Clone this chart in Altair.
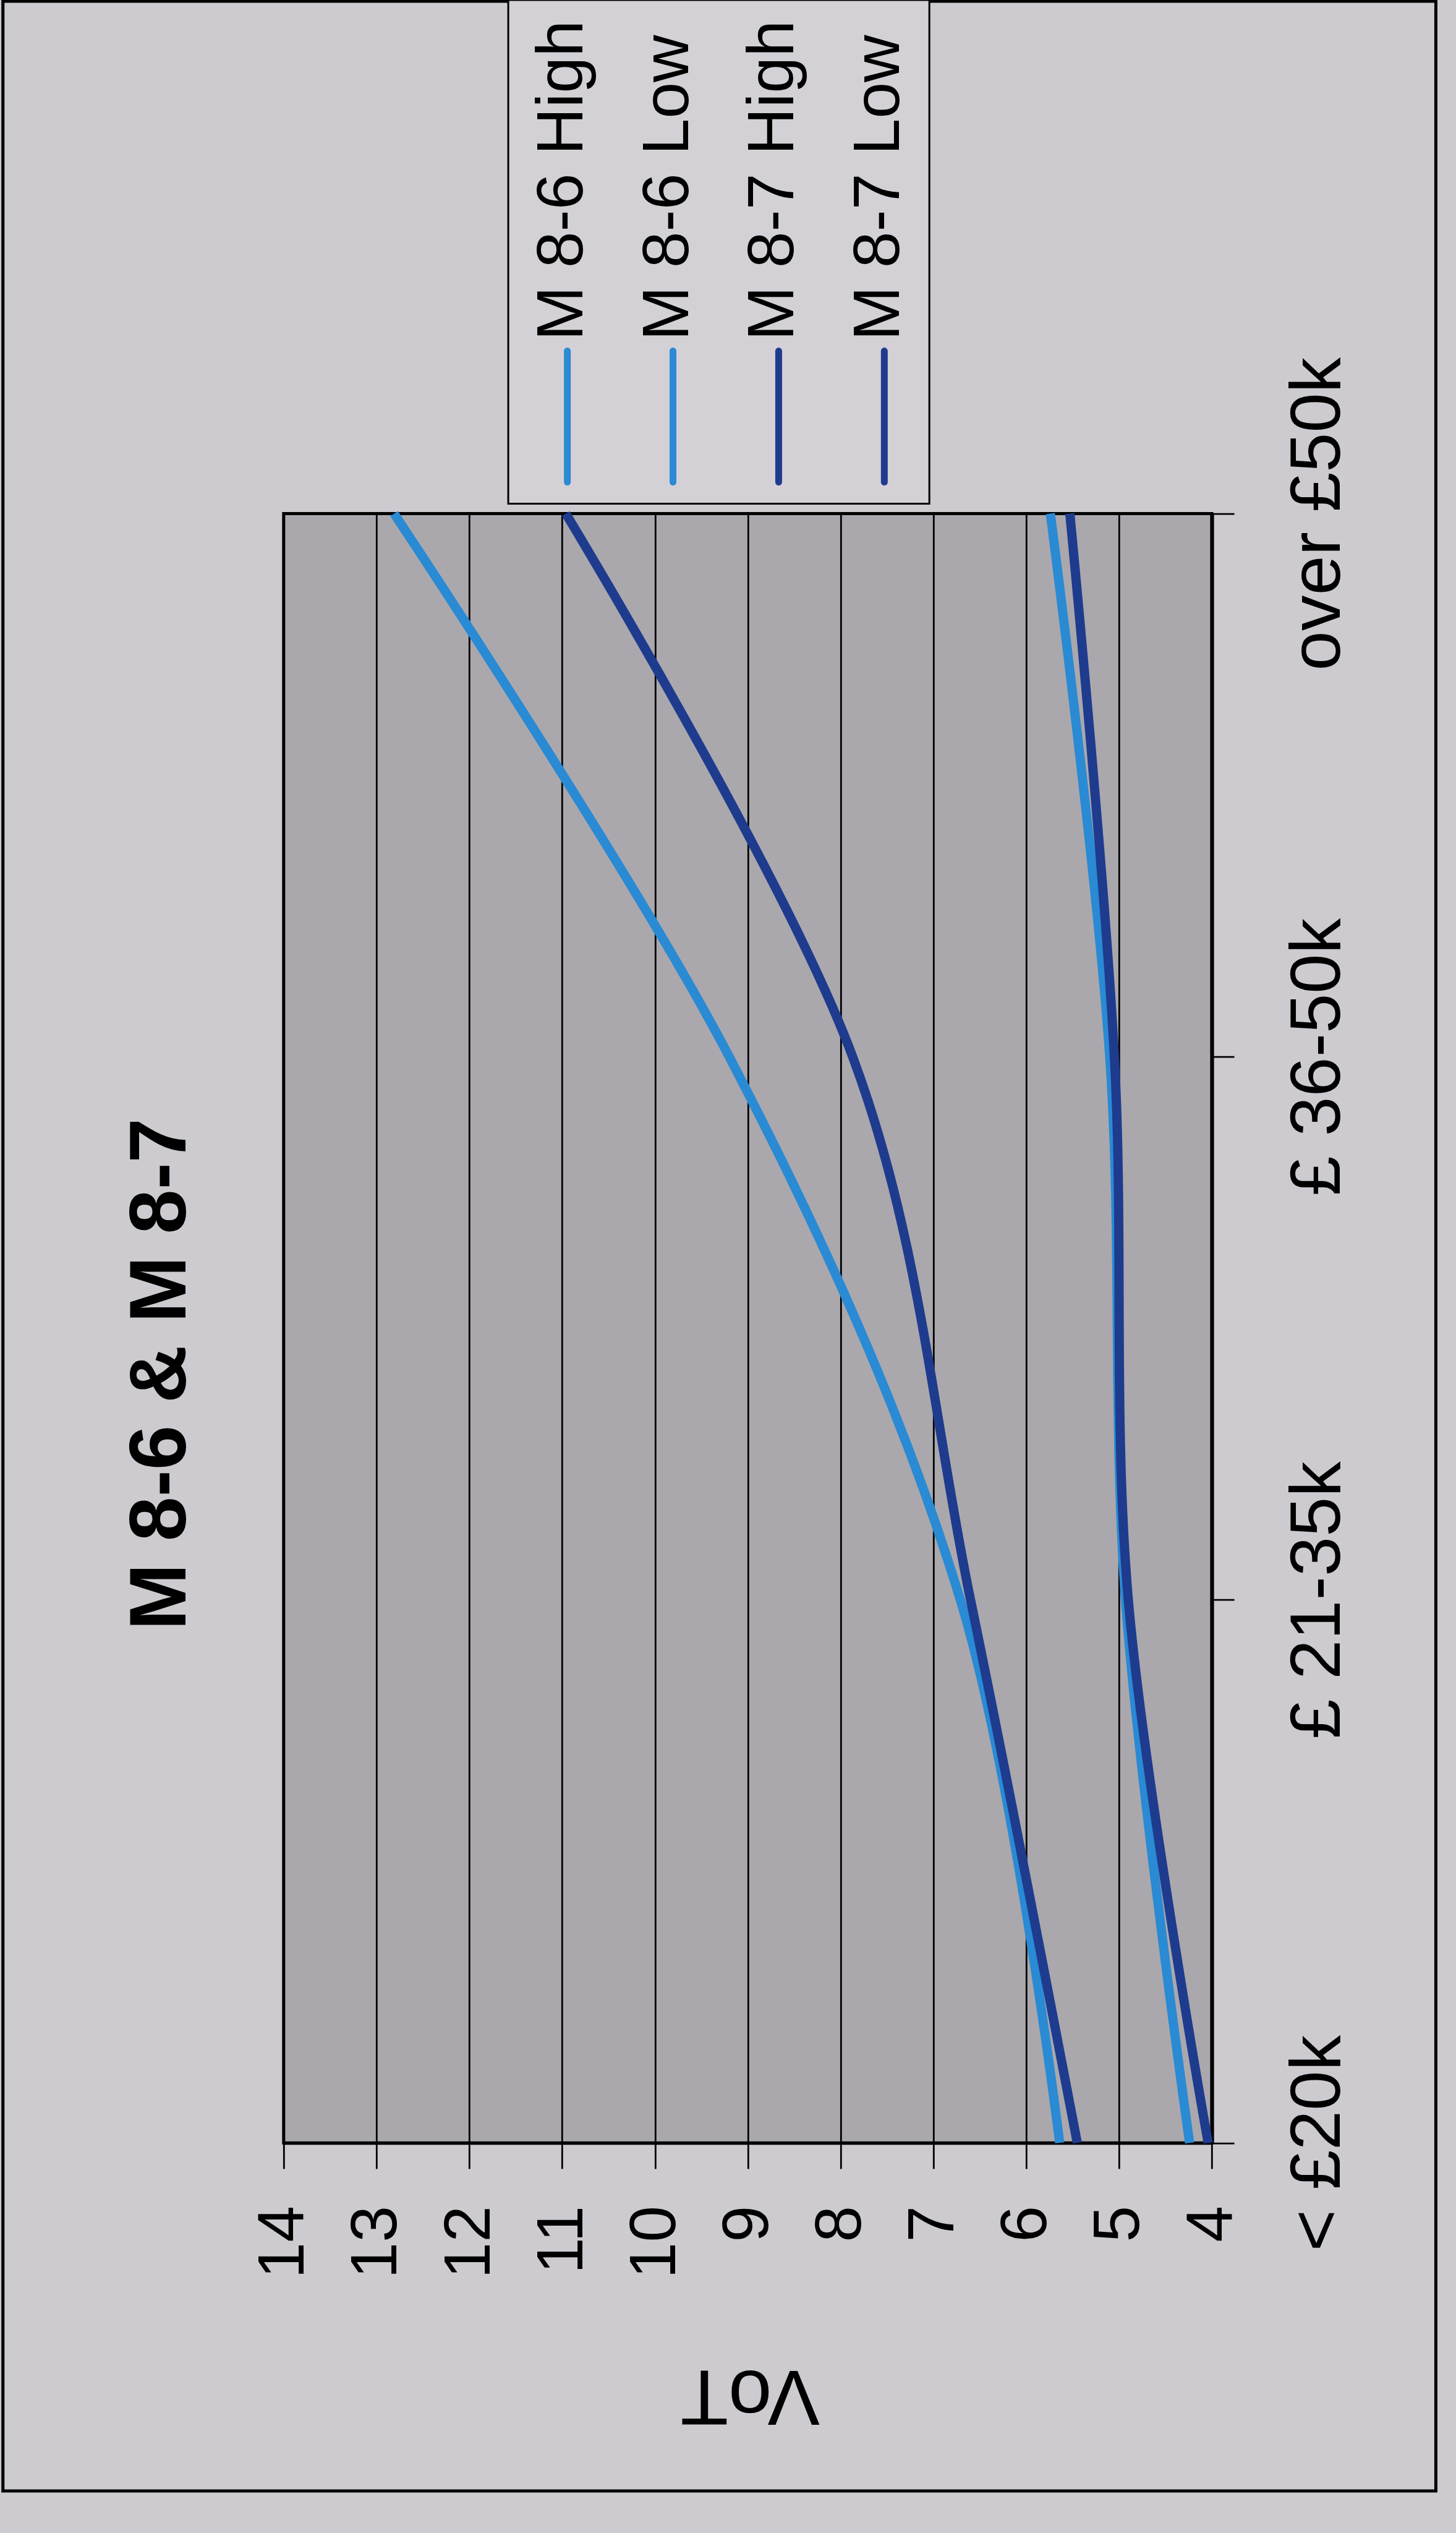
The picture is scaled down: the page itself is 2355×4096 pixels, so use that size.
import altair as alt
import pandas as pd

# ---------------- data ----------------
categories = ["< £20k", "£ 21-35k", "£ 36-50k", "over £50k"]
series = ["M 8-6 High", "M 8-6 Low", "M 8-7 High", "M 8-7 Low"]
m86_high = [5.64, 6.71, 9.20, 12.81]
m86_low = [4.24, 4.93, 5.10, 5.74]
m87_high = [5.45, 6.60, 7.87, 10.96]
m87_low = [4.04, 4.90, 5.05, 5.53]
colors = ["#2a8ad4", "#2a8ad4", "#1e3b8e", "#1e3b8e"]
vot_ticks = list(range(4, 15))
title_text = "M 8-6 & M 8-7"
axis_title = "VoT"

values = {"M 8-6 High": m86_high, "M 8-6 Low": m86_low,
          "M 8-7 High": m87_high, "M 8-7 Low": m87_low}
rows = []
for s in series:
    for i, c in enumerate(categories):
        rows.append({"series": s, "income": c, "idx": i, "vot": values[s][i]})
df = pd.DataFrame(rows)

# ---------------- geometry (reference px * S) ----------------
S = 0.946
PL, PT, PR, PB = 485 * S, 878 * S, 2072 * S, 3663 * S
W, H = PR - PL, PB - PT


def rx(v):
    return v * S - PL


def ry(v):
    return v * S - PT


FONT = "Liberation Sans"
BG = "#cecbd0"
PLOT_BG = "#aaa8ac"

fs_xlab = 112 * S
fs_ylab = 122 * S
fs_leg = 112 * S
fs_title = 137 * S
fs_axtitle = 134 * S
xtick = 44 * S
ytick = 38 * S

lines = alt.Chart(df).mark_line(interpolate="cardinal", tension=0, strokeWidth=15).encode(
    x=alt.X(
        "vot:Q",
        scale=alt.Scale(domain=[4, 14], reverse=True, nice=False, zero=False),
        axis=alt.Axis(
            values=vot_ticks, orient="bottom", format="d",
            labelAngle=270, labelAlign="right", labelBaseline="middle",
            labelFontSize=fs_xlab, labelFont=FONT, labelColor="black",
            labelPadding=(3770 - 3663) * S - xtick, labelFlush=False, labelOverlap=False,
            labelLimit=0,
            tickSize=xtick, tickWidth=2.8, tickColor="black",
            domainColor="black", domainWidth=5,
            grid=True, gridColor="black", gridWidth=2.8,
            title=axis_title, titleAngle=180, titleFontSize=fs_axtitle,
            titleFontWeight="normal", titleFont=FONT, titleColor="black",
            titleX=rx(1282), titleY=4052 * S - PB,
            titleAlign="center", titleBaseline="alphabetic", titleLimit=0,
        ),
    ),
    y=alt.Y(
        "income:N",
        scale=alt.Scale(type="point", domain=categories[::-1], padding=0),
        axis=alt.Axis(
            orient="right", labelAngle=270, labelAlign="center", labelBaseline="top",
            labelFontSize=fs_ylab, labelFont=FONT, labelColor="black",
            labelPadding=(2290 - 2072) * S - 0.79 * fs_ylab - ytick,
            labelOverlap=False, labelFlush=False, labelLimit=0,
            tickSize=ytick, tickWidth=2.8, tickColor="black",
            domainColor="black", domainWidth=6, grid=False, title=None,
        ),
    ),
    color=alt.Color("series:N", scale=alt.Scale(domain=series, range=colors), legend=None),
    order=alt.Order("idx:Q"),
)

one = pd.DataFrame({"t": [title_text]})

border = alt.Chart(one).mark_rect(fill="transparent", stroke="black", strokeWidth=5).encode(
    x=alt.value(rx(5)), x2=alt.value(rx(2455)), y=alt.value(ry(2)), y2=alt.value(ry(4258))
)

legend_box = alt.Chart(one).mark_rect(fill="#d3d1d5", stroke="black", strokeWidth=3).encode(
    x=alt.value(rx(869)), x2=alt.value(rx(1589)), y=alt.value(ry(0)), y2=alt.value(ry(861))
)

leg_df = pd.DataFrame({"series": series})
leg_x = alt.X("series:N", scale=alt.Scale(type="point", domain=series,
                                           range=[rx(970), rx(1512)], padding=0), axis=None)
leg_rules = alt.Chart(leg_df).mark_rule(strokeWidth=11, strokeCap="round").encode(
    x=leg_x, y=alt.value(ry(600)), y2=alt.value(ry(824)),
    color=alt.Color("series:N", scale=alt.Scale(domain=series, range=colors), legend=None),
)
leg_text = alt.Chart(leg_df).mark_text(
    angle=270, align="left", baseline="middle", fontSize=fs_leg, font=FONT, color="black", dy=-8
).encode(x=leg_x, y=alt.value(ry(574) + 8), text="series:N")

title = alt.Chart(one).mark_text(
    angle=270, align="center", baseline="alphabetic", fontSize=fs_title,
    fontWeight="bold", font=FONT, color="black"
).encode(x=alt.value(rx(317)), y=alt.value(ry(2349)), text="t:N")

chart = alt.layer(border, legend_box, lines, leg_rules, leg_text, title).resolve_scale(
    x="independent"
).properties(
    width=W, height=H,
    autosize=alt.AutoSizeParams(type="none"),
    padding={"left": PL, "top": PT, "right": 2355 - PR, "bottom": 4096 - PB},
    background=BG,
).configure(font=FONT).configure_view(fill=PLOT_BG, stroke="black", strokeWidth=5)

chart.save("out.html", embed_options={"renderer": "svg", "actions": False})
